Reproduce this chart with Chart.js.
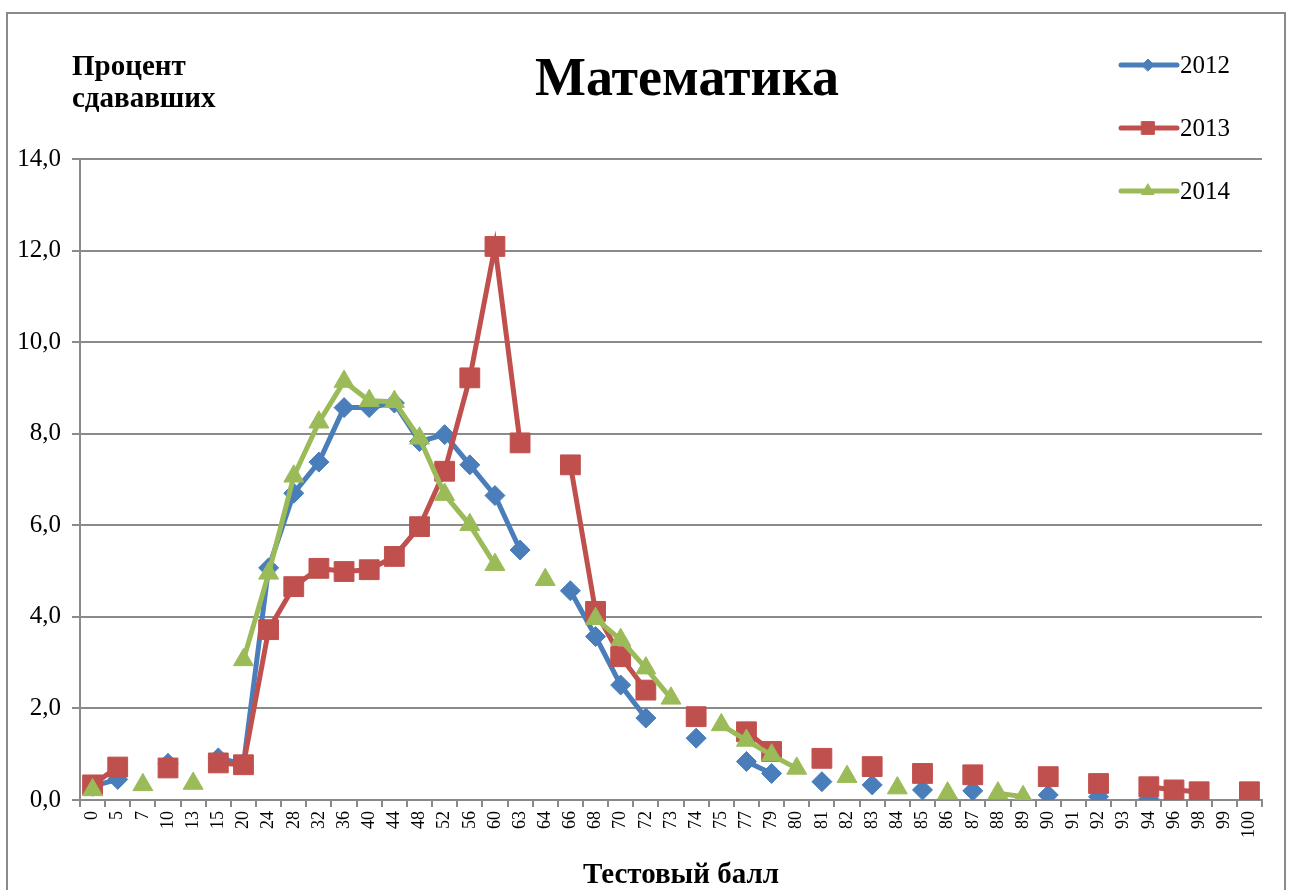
<!DOCTYPE html>
<html>
<head>
<meta charset="utf-8">
<script src="https://cdn.jsdelivr.net/npm/chart.js@4/dist/chart.umd.min.js"></script>
<style>
  html, body { margin: 0; padding: 0; background: #fff; }
  #wrap { position: relative; width: 1291px; height: 890px; }
</style>
</head>
<body>
<div id="wrap"><canvas id="mathChart" width="1291" height="890"></canvas></div>
<script>
// Тестовый балл (категории оси X)
var scores = ['0','5','7','10','13','15','20','24','28','32','36','40','44','48','52','56','60','63','64','66','68','70','72','73','74','75','77','79','80','81','82','83','84','85','86','87','88','89','90','91','92','93','94','96','98','99','100'];

var y2012 = [0.3,0.45,null,0.8,null,0.92,0.78,5.07,6.7,7.38,8.57,8.57,8.67,7.83,7.98,7.32,6.65,5.46,null,4.57,3.57,2.51,1.79,null,1.35,null,0.84,0.58,null,0.4,null,0.33,null,0.22,null,0.2,null,null,0.11,null,0.07,null,0.03,null,null,null,null];
var y2013 = [0.33,0.72,null,0.7,null,0.81,0.77,3.72,4.66,5.06,4.99,5.03,5.32,5.97,7.18,9.22,12.09,7.8,null,7.32,4.12,3.13,2.4,null,1.82,null,1.49,1.06,null,0.91,null,0.73,null,0.58,null,0.55,null,null,0.51,null,0.36,null,0.29,0.22,0.18,null,0.18];
var y2014 = [0.22,null,0.33,null,0.36,null,3.06,4.95,7.07,8.25,9.14,8.72,8.7,7.9,6.67,6.01,5.14,null,4.81,null,3.96,3.5,2.88,2.22,null,1.64,1.3,0.98,0.69,null,0.51,null,0.26,null,0.15,null,0.15,0.07,null,null,null,null,null,null,null,null,null];

var years = ['2012', '2013', '2014'];
var yTicks = [0, 2, 4, 6, 8, 10, 12, 14];

var BLUE = '#4a7ebb', RED = '#c0504d', GREEN = '#9bbb59', GRID = '#8a8a8a';
var SERIF = "'Liberation Serif', 'Times New Roman', serif";

var textPlugin = {
    id: 'texts',
    beforeDraw: function (chart) {
        var c = chart.ctx;
        c.save();
        c.fillStyle = '#fff';
        c.fillRect(0, 0, chart.width, chart.height);
        c.strokeStyle = GRID;
        c.lineWidth = 2;
        c.strokeRect(7, 13, 1278, 900);
        c.restore();
    },
    afterDraw: function (chart) {
        var c = chart.ctx;
        c.save();
        c.fillStyle = '#000';
        c.textBaseline = 'alphabetic';
        c.textAlign = 'center';
        c.font = 'bold 54px ' + SERIF;
        c.fillText('Математика', 687, 95);
        c.font = 'bold 29px ' + SERIF;
        c.fillText('Тестовый балл', 681, 883);
        c.textAlign = 'left';
        c.fillText('Процент', 72, 75);
        c.fillText('сдававших', 72, 107);

        // легенда: линия с маркером
        var styles = [['rectRot', 6, BLUE], ['rect', 9, RED], ['triangle', 7, GREEN]];
        var ys = [65, 128, 191];
        c.font = '25px ' + SERIF;
        for (var i = 0; i < years.length; i++) {
            c.strokeStyle = styles[i][2];
            c.fillStyle = styles[i][2];
            c.lineWidth = 5;
            c.lineCap = 'round';
            c.beginPath();
            c.moveTo(1121, ys[i]);
            c.lineTo(1177, ys[i]);
            c.stroke();
            c.lineWidth = 1;
            Chart.helpers.drawPoint(c, { pointStyle: styles[i][0], radius: styles[i][1], rotation: 0, borderWidth: 1 }, 1148, ys[i]);
            c.fillStyle = '#000';
            c.fillText(years[i], 1180, ys[i] + 8);
        }
        c.restore();
    }
};

function series(label, data, color, style, radius, order) {
    return {
        label: label,
        data: data,
        borderColor: color,
        backgroundColor: color,
        borderWidth: 5,
        pointStyle: style,
        pointRadius: radius,
        pointHoverRadius: radius,
        pointBorderWidth: 1,
        pointBorderColor: color,
        pointBackgroundColor: color,
        tension: 0,
        spanGaps: false,
        order: order
    };
}

var ctx = document.getElementById('mathChart').getContext('2d');
var mathChart = new Chart(ctx, {
    type: 'line',
    data: {
        labels: scores,
        datasets: [
            series(years[0], y2012, BLUE, 'rectRot', 10, 3),
            series(years[1], y2013, RED, 'rect', 14, 2),
            series(years[2], y2014, GREEN, 'triangle', 11.5, 1)
        ]
    },
    options: {
        responsive: false,
        devicePixelRatio: 1,
        animation: false,
        layout: { padding: { top: 159, right: 29, left: 0, bottom: 0 } },
        plugins: {
            legend: { display: false },
            title: { display: false },
            tooltip: { enabled: false }
        },
        scales: {
            x: {
                offset: true,
                afterFit: function (s) { s.height = 90; },
                grid: { display: true, drawOnChartArea: false, drawTicks: true, tickLength: 7, color: GRID, lineWidth: 2, offset: true },
                border: { color: GRID, width: 2 },
                ticks: { autoSkip: false, maxRotation: 90, minRotation: 90, padding: 4, color: '#000', font: { family: SERIF, size: 18 } }
            },
            y: {
                min: 0,
                max: 14,
                afterFit: function (s) { s.width = 80; },
                afterBuildTicks: function (s) { s.ticks = yTicks.map(function (v) { return { value: v }; }); },
                grid: { color: GRID, lineWidth: 2, tickLength: 8 },
                border: { color: GRID, width: 2 },
                ticks: {
                    padding: 11,
                    color: '#000',
                    font: { family: SERIF, size: 25 },
                    callback: function (v) { return v.toFixed(1).replace('.', ','); }
                }
            }
        }
    },
    plugins: [textPlugin]
});
</script>
</body>
</html>
